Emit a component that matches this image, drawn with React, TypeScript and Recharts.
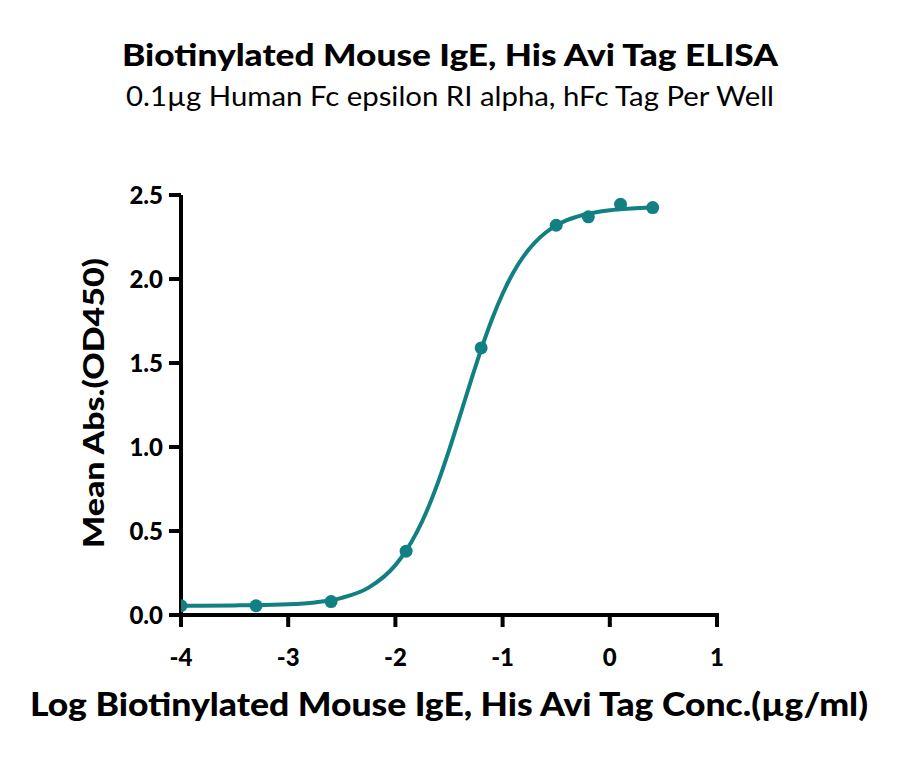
import React from "react";
import {
  ComposedChart,
  Line,
  Scatter,
  XAxis,
  YAxis,
  Customized,
} from "recharts";

// Measured points (log concentration, mean OD450)
const pointX = [-4.0, -3.3, -2.6, -1.9, -1.2, -0.5, -0.2, 0.1, 0.4];
const pointY = [0.055, 0.055, 0.08, 0.38, 1.59, 2.32, 2.37, 2.445, 2.425];

// Fitted curve
const curveX = [-4.0, -3.5, -3.0, -2.75, -2.5, -2.25, -2.0, -1.9, -1.8, -1.7, -1.6, -1.5, -1.4, -1.3, -1.2, -1.1, -1.0, -0.9, -0.8, -0.7, -0.6, -0.5, -0.4, -0.25, 0.0, 0.2, 0.4];
const curveY = [0.055, 0.057, 0.064, 0.075, 0.102, 0.163, 0.297, 0.383, 0.493, 0.63, 0.794, 0.98, 1.181, 1.385, 1.581, 1.759, 1.912, 2.039, 2.139, 2.216, 2.275, 2.318, 2.35, 2.381, 2.409, 2.419, 2.425];

const xTicks = [-4, -3, -2, -1, 0, 1];
const yTicks = [0, 0.5, 1.0, 1.5, 2.0, 2.5];

const TITLE = "Biotinylated Mouse IgE, His Avi Tag ELISA";
const SUBTITLE = "0.1\u00b5g Human Fc epsilon RI alpha, hFc Tag Per Well";
const X_LABEL = "Log Biotinylated Mouse IgE, His Avi Tag Conc.(\u00b5g/ml)";
const Y_LABEL = "Mean Abs.(OD450)";

const points = pointX.map((x, i) => ({ x, y: pointY[i] }));
const curve = curveX.map((x, i) => ({ x, y: curveY[i] }));

const TEAL = "#128083";
const FONT = "Lato, 'Noto Sans', sans-serif";

const TextLayer = () => (
  <g fontFamily={FONT} fill="#000">
    <text x={450} y={66} textAnchor="middle" fontSize={31} fontWeight={900} textLength={656} lengthAdjust="spacingAndGlyphs">
      {TITLE}
    </text>
    <text x={450} y={106} textAnchor="middle" fontSize={26} fontWeight={400} textLength={648} lengthAdjust="spacingAndGlyphs">
      {SUBTITLE}
    </text>
    <text x={449} y={716} textAnchor="middle" fontSize={32} fontWeight={900} textLength={838} lengthAdjust="spacingAndGlyphs">
      {X_LABEL}
    </text>
    <text x={0} y={0} transform="translate(104,403) rotate(-90)" textAnchor="middle" fontSize={28} fontWeight={900} textLength={290} lengthAdjust="spacingAndGlyphs">
      {Y_LABEL}
    </text>
  </g>
);

const Dot = (props: any) => {
  const { cx, cy } = props;
  if (cx == null || cy == null) return null;
  return <circle cx={cx} cy={cy} r={6.5} fill={TEAL} />;
};

const tickStyle = { fontSize: 24, fontWeight: 900, fill: "#000", fontFamily: FONT };

export default function App() {
  return (
    <div style={{ position: "absolute", left: 0, top: 0, width: 900, height: 757, background: "#fff" }}>
      <ComposedChart
        width={900}
        height={757}
        margin={{ top: 195, right: 183, bottom: 82, left: 0 }}
        style={{ background: "#fff" }}
      >
        <XAxis
          dataKey="x"
          type="number"
          domain={[-4, 1]}
          ticks={xTicks}
          allowDataOverflow
          height={60}
          axisLine={{ stroke: "#000", strokeWidth: 4, strokeLinecap: "square" }}
          tickLine={{ stroke: "#000", strokeWidth: 4 }}
          tickSize={12}
          tickMargin={22}
          tick={tickStyle}
        />
        <YAxis
          dataKey="y"
          type="number"
          domain={[0, 2.5]}
          ticks={yTicks}
          allowDataOverflow
          width={181}
          axisLine={{ stroke: "#000", strokeWidth: 4 }}
          tickLine={{ stroke: "#000", strokeWidth: 4 }}
          tickSize={12}
          tickMargin={6}
          tickFormatter={(v: number) => v.toFixed(1)}
          tick={tickStyle}
        />
        <Line
          data={curve}
          dataKey="y"
          type="monotone"
          stroke={TEAL}
          strokeWidth={4}
          dot={false}
          activeDot={false}
          isAnimationActive={false}
        />
        <Scatter
          data={points}
          dataKey="y"
          fill={TEAL}
          shape={Dot}
          isAnimationActive={false}
        />
        <Customized component={TextLayer} />
      </ComposedChart>
    </div>
  );
}
